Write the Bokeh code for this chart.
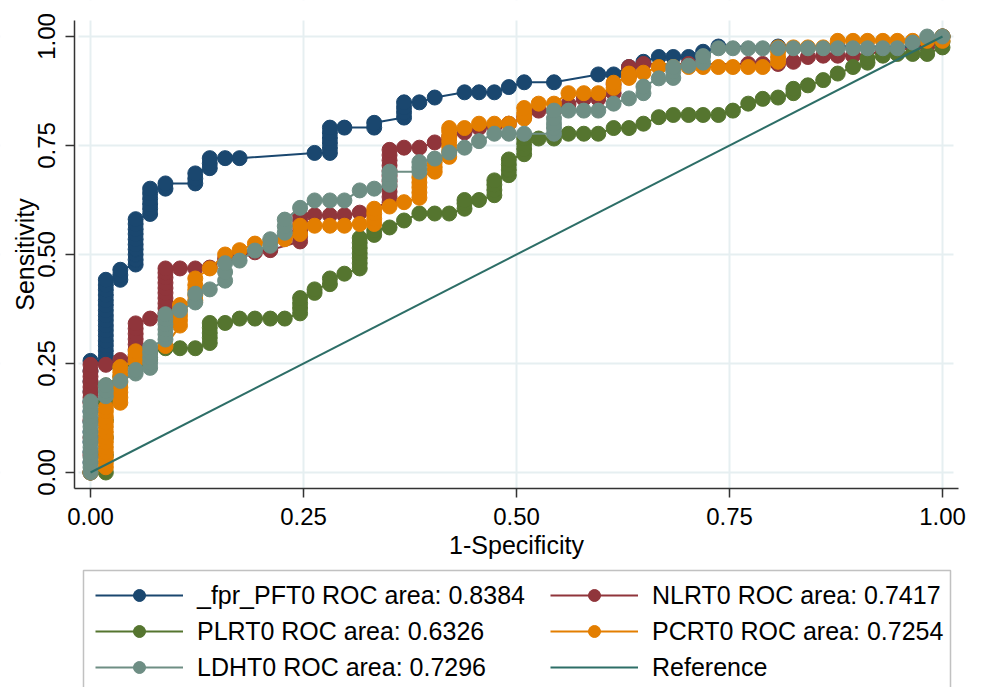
from bokeh.plotting import figure
from bokeh.models import Range1d, FixedTicker, Legend, LegendItem, BoxAnnotation
from bokeh.embed import file_html
from bokeh.resources import INLINE

FONT = "Liberation Sans"

# ---------------- data ----------------
tick_values = [0.0, 0.25, 0.5, 0.75, 1.0]
tick_labels = ["0.00", "0.25", "0.50", "0.75", "1.00"]

series_names = ["_fpr_PFT0", "NLRT0", "PLRT0", "PCRT0", "LDHT0"]
roc_areas = ["0.8384", "0.7417", "0.6326", "0.7254", "0.7296"]

# _fpr_PFT0
fpr_pft = [0.0] * 12 + [0.018] * 17 + [0.035] * 3 + [0.053] * 10 + [0.070] * 6 + [0.088] * 2 + \
          [0.123] * 3 + [0.140] * 3 + [0.158, 0.175, 0.263] + [0.281] * 6 + [0.298, 0.333, 0.333] + \
          [0.368] * 4 + [0.386, 0.404, 0.439, 0.456, 0.474, 0.491, 0.509, 0.544, 0.596, 0.614, 0.632,
                         0.649, 0.667, 0.684, 0.702, 0.719, 0.737, 0.807, 0.877, 0.965, 0.982, 1.0]
tpr_pft = [0.0, 0.023, 0.047, 0.070, 0.093, 0.116, 0.140, 0.163, 0.186, 0.209, 0.233, 0.256,
           0.256, 0.267, 0.279, 0.291, 0.302, 0.314, 0.326, 0.337, 0.349, 0.360, 0.372, 0.384, 0.395,
           0.407, 0.419, 0.430, 0.442,
           0.442, 0.453, 0.465,
           0.477, 0.488, 0.500, 0.512, 0.523, 0.535, 0.547, 0.558, 0.570, 0.581,
           0.593, 0.605, 0.616, 0.628, 0.640, 0.651,
           0.651, 0.663,
           0.663, 0.674, 0.686,
           0.698, 0.709, 0.721,
           0.721, 0.721, 0.733,
           0.733, 0.744, 0.756, 0.767, 0.779, 0.791,
           0.791, 0.791, 0.802,
           0.814, 0.826, 0.837, 0.849,
           0.849, 0.860, 0.872, 0.872, 0.872, 0.884, 0.895, 0.895, 0.913, 0.913, 0.930,
           0.942, 0.953, 0.953, 0.953, 0.965, 0.977, 0.977, 0.977, 0.977, 0.988, 1.0]

# NLRT0
fpr_nlr = [0.0] * 12 + [0.018, 0.035] + [0.053] * 7 + [0.070] + [0.088] * 10 + \
          [0.105, 0.123, 0.140, 0.158, 0.175, 0.193, 0.211] + [0.246] * 6 + [0.263, 0.281, 0.298, 0.316] + \
          [0.351] * 11 + [0.368, 0.386, 0.404, 0.421, 0.439, 0.456, 0.474, 0.491, 0.509, 0.526, 0.544,
                          0.561, 0.579, 0.596, 0.614, 0.614, 0.632, 0.632, 0.649, 0.702, 0.772, 0.789,
                          0.807, 0.825, 0.842, 0.860, 0.877, 0.895, 0.930, 0.982, 1.0]
tpr_nlr = [0.0, 0.040, 0.080, 0.120, 0.160, 0.172, 0.184, 0.196, 0.208, 0.220, 0.232, 0.247,
           0.247, 0.258,
           0.270, 0.282, 0.294, 0.306, 0.318, 0.330, 0.342,
           0.353,
           0.365, 0.377, 0.388, 0.400, 0.412, 0.423, 0.435, 0.447, 0.458, 0.468,
           0.468, 0.468, 0.470, 0.490, 0.500, 0.505, 0.510,
           0.530, 0.542, 0.554, 0.566, 0.578, 0.590,
           0.590, 0.590, 0.590, 0.596,
           0.620, 0.632, 0.644, 0.656, 0.668, 0.680, 0.692, 0.704, 0.716, 0.728, 0.740,
           0.745, 0.745, 0.757, 0.770, 0.780, 0.790, 0.794, 0.800, 0.815, 0.830, 0.830,
           0.845, 0.857, 0.857, 0.870, 0.890, 0.910, 0.930, 0.937, 0.937, 0.937, 0.937,
           0.937, 0.942, 0.953, 0.956, 0.956, 0.956, 0.965, 0.977, 1.0]

# PLRT0
fpr_plr = [0.0] + [0.018] * 6 + [0.035] * 2 + [0.053] + [0.070] * 2 + [0.088, 0.105, 0.123] + \
          [0.140] * 5 + [0.158, 0.175, 0.193, 0.211, 0.228] + [0.246] * 4 + [0.263] * 2 + [0.281] * 2 + \
          [0.298] + [0.316] * 7 + [0.333] * 2 + [0.351, 0.368, 0.386, 0.404, 0.421] + [0.439] * 3 + \
          [0.456] + [0.474] * 4 + [0.491] * 4 + [0.509] * 4 + \
          [0.526, 0.544, 0.561, 0.579, 0.596, 0.614, 0.632, 0.649, 0.667, 0.684, 0.702, 0.719, 0.737,
           0.754, 0.772, 0.789, 0.807, 0.825, 0.825, 0.842, 0.860, 0.877, 0.895, 0.912, 0.912, 0.930,
           0.947, 0.965, 0.982, 1.0, 1.0, 1.0]
tpr_plr = [0.0,
           0.0, 0.040, 0.080, 0.120, 0.160, 0.200,
           0.220, 0.240, 0.250, 0.260, 0.275, 0.285, 0.285, 0.285,
           0.297, 0.309, 0.320, 0.332, 0.343,
           0.343, 0.353, 0.353, 0.353, 0.353,
           0.365, 0.377, 0.388, 0.400, 0.412, 0.420, 0.432, 0.445, 0.456,
           0.468, 0.480, 0.492, 0.503, 0.515, 0.527, 0.538,
           0.545, 0.555, 0.562, 0.578, 0.594, 0.594, 0.594,
           0.605, 0.617, 0.625, 0.625,
           0.636, 0.648, 0.660, 0.670,
           0.682, 0.694, 0.706, 0.718,
           0.730, 0.742, 0.754, 0.766,
           0.766, 0.766, 0.777, 0.777, 0.777, 0.790, 0.790, 0.800, 0.815, 0.820, 0.820, 0.820,
           0.820, 0.830, 0.846, 0.857, 0.860, 0.870, 0.880, 0.888, 0.900, 0.915, 0.930, 0.940,
           0.950, 0.956, 0.960, 0.960, 0.960, 0.975, 0.988, 1.0]

# PCRT0
fpr_pcr = [0.0] + [0.018] * 13 + [0.035] * 8 + [0.053] * 3 + [0.070, 0.088] + [0.105] * 5 + \
          [0.123] * 5 + [0.140, 0.158, 0.175, 0.193, 0.211, 0.228, 0.246, 0.246, 0.263, 0.281, 0.298,
                         0.316] + [0.333] * 4 + [0.351, 0.368] + [0.386] * 5 + [0.404] * 3 + \
          [0.421] * 7 + [0.439, 0.456, 0.474, 0.491] + [0.509] * 3 + [0.526, 0.544, 0.561, 0.579, 0.596] + \
          [0.614] * 2 + [0.632] * 2 + [0.649, 0.667, 0.684, 0.702, 0.719, 0.737, 0.754, 0.772, 0.789] + \
          [0.807] * 4 + [0.825, 0.842, 0.860, 0.877, 0.895, 0.912, 0.930, 0.947, 0.965, 0.982, 1.0, 1.0]
tpr_pcr = [0.0,
           0.012, 0.023, 0.035, 0.047, 0.058, 0.070, 0.081, 0.093, 0.105, 0.116, 0.128, 0.140, 0.149,
           0.160, 0.172, 0.184, 0.195, 0.207, 0.219, 0.230, 0.242,
           0.255, 0.267, 0.278, 0.282, 0.290,
           0.337, 0.349, 0.360, 0.372, 0.384,
           0.395, 0.407, 0.419, 0.430, 0.445,
           0.468, 0.500, 0.510, 0.525, 0.530, 0.535, 0.547, 0.566, 0.566, 0.566, 0.566, 0.570,
           0.570, 0.582, 0.594, 0.605, 0.610, 0.620,
           0.630, 0.642, 0.654, 0.665, 0.677,
           0.690, 0.700, 0.712,
           0.724, 0.736, 0.747, 0.759, 0.770, 0.782, 0.790,
           0.790, 0.800, 0.800, 0.800,
           0.812, 0.824, 0.836,
           0.846, 0.846, 0.870, 0.870, 0.870, 0.882, 0.894, 0.905, 0.915,
           0.917, 0.930, 0.930, 0.930, 0.930, 0.930, 0.930, 0.930, 0.930,
           0.942, 0.953, 0.965, 0.975,
           0.975, 0.975, 0.975, 0.990, 0.990, 0.990, 0.990, 0.990, 0.990, 0.990, 0.990, 1.0]

# LDHT0
fpr_ldh = [0.0] * 15 + [0.018] * 3 + [0.035] + [0.053] * 2 + [0.070] * 5 + [0.088] * 6 + [0.105] + \
          [0.123] * 2 + [0.140] + [0.158] * 3 + [0.175, 0.193, 0.211, 0.211] + [0.228] * 3 + \
          [0.246, 0.263, 0.281, 0.298, 0.316, 0.333] + [0.351] * 4 + [0.386] * 3 + \
          [0.404, 0.421, 0.439, 0.456, 0.474, 0.491, 0.509] + [0.544] * 5 + \
          [0.561, 0.579, 0.596, 0.614, 0.632, 0.649, 0.649, 0.667] + [0.684] * 3 + [0.702, 0.719, 0.719] + \
          [0.737, 0.754, 0.772, 0.789, 0.807, 0.825, 0.842, 0.860, 0.877, 0.895, 0.912, 0.930, 0.947,
           0.965, 0.982, 1.0]
tpr_ldh = [0.0, 0.012, 0.023, 0.035, 0.047, 0.058, 0.070, 0.081, 0.093, 0.105, 0.116, 0.128, 0.140,
           0.151, 0.163,
           0.175, 0.187, 0.200,
           0.210,
           0.227, 0.235,
           0.240, 0.252, 0.264, 0.276, 0.288,
           0.305, 0.317, 0.328, 0.340, 0.352, 0.363,
           0.372,
           0.390, 0.410,
           0.420,
           0.440, 0.460, 0.480,
           0.486, 0.509, 0.520, 0.535,
           0.550, 0.565, 0.580,
           0.607, 0.624, 0.624, 0.624, 0.647, 0.651,
           0.660, 0.672, 0.684, 0.690,
           0.690, 0.700, 0.712,
           0.720, 0.734, 0.745, 0.760, 0.777, 0.777, 0.777,
           0.777, 0.790, 0.800, 0.812, 0.830,
           0.830, 0.830, 0.830, 0.846, 0.858, 0.870, 0.885, 0.904,
           0.905, 0.920, 0.930,
           0.933, 0.940, 0.955,
           0.973, 0.973, 0.973, 0.973, 0.973, 0.973, 0.973, 0.973, 0.973, 0.973, 0.973, 0.973,
           0.973, 0.986, 1.0, 1.0]

ref_x = [0.0, 1.0]
ref_y = [0.0, 1.0]

# ---------------- styling / layout ----------------
colors = ["#1a476f", "#90353b", "#55752f", "#e37e00", "#6e8e84"]
ref_color = "#2d6e67"

# plot-region limits (where the axis lines sit, outside the 0..1 data box)
X_LO, X_HI = -0.01878, 1.01878
Y_LO, Y_HI = -0.0367, 1.0367

p = figure(frame_width=976, frame_height=687,
           x_range=Range1d(-0.105634, 1.039906), y_range=Range1d(-0.493119, 1.082569),
           output_backend="svg", toolbar_location=None,
           min_border_left=0, min_border_top=0, min_border_right=0, min_border_bottom=0)
p.outline_line_color = None
p.background_fill_color = "white"
p.border_fill_color = "white"

overrides = dict(zip(tick_values, tick_labels))
for ax in (p.xaxis[0], p.yaxis[0]):
    ax.ticker = FixedTicker(ticks=tick_values)
    ax.major_label_overrides = overrides
    ax.axis_line_color = "#333333"
    ax.axis_line_width = 1.5
    ax.major_tick_line_color = "#333333"
    ax.major_tick_line_width = 1.5
    ax.major_tick_out = 9
    ax.major_tick_in = 0
    ax.minor_tick_line_color = None
    ax.major_label_text_font = FONT
    ax.major_label_text_font_size = "24px"
    ax.major_label_text_color = "black"
    ax.axis_label_text_font = FONT
    ax.axis_label_text_font_size = "25px"
    ax.axis_label_text_font_style = "normal"
    ax.axis_label_text_color = "black"

p.xaxis.axis_label = "1-Specificity"
p.yaxis.axis_label = "Sensitivity"
p.xaxis.fixed_location = Y_LO
p.yaxis.fixed_location = X_LO
p.xaxis.bounds = (X_LO, X_HI)
p.yaxis.bounds = (Y_LO, Y_HI)
p.yaxis.major_label_orientation = "vertical"
p.yaxis.major_label_standoff = 10
p.yaxis.axis_label_standoff = -3
p.xaxis.major_label_standoff = 10
p.xaxis.axis_label_standoff = 3

for g in (p.xgrid[0], p.ygrid[0]):
    g.grid_line_color = "#e6eff1"
    g.grid_line_width = 2

# white covers that keep the grid lines inside the plot region
for kw in (dict(top=Y_LO - 0.007), dict(bottom=Y_HI), dict(right=X_LO + 0.0047), dict(left=X_HI - 0.0059)):
    p.add_layout(BoxAnnotation(fill_color="white", fill_alpha=1.0, line_color=None,
                               level="underlay", **kw))

xs = [fpr_pft, fpr_nlr, fpr_plr, fpr_pcr, fpr_ldh]
ys = [tpr_pft, tpr_nlr, tpr_plr, tpr_pcr, tpr_ldh]

items = []
for name, auc, x, y, c in zip(series_names, roc_areas, xs, ys, colors):
    lr = p.line(x, y, line_color=c, line_width=2)
    sr = p.scatter(x, y, size=15, fill_color=c, line_color=c)
    items.append(LegendItem(label=f"{name} ROC area: {auc}", renderers=[lr, sr]))

rr = p.line(ref_x, ref_y, line_color=ref_color, line_width=2)
items.append(LegendItem(label="Reference", renderers=[rr]))

# legend frame (its lower edge lies below the picture, as in the original)
p.add_layout(BoxAnnotation(left=-0.00822, right=1.00939, top=-0.22477, bottom=-0.5046,
                           fill_color="white", fill_alpha=1.0,
                           line_color="#333333", line_width=1.5))

common = dict(margin=0, padding=10, spacing=6, glyph_width=88, glyph_height=30, label_standoff=14,
              label_text_font=FONT, label_text_font_size="25px", label_text_color="black",
              border_line_color=None, background_fill_alpha=0.0)
left_legend = Legend(items=[items[0], items[2], items[4]], location=(95, 5), **common)
right_legend = Legend(items=[items[1], items[3], items[5]], location=(550, 5), **common)
p.add_layout(left_legend, "center")
p.add_layout(right_legend, "center")

open("out.html", "w").write(file_html(p, INLINE))
